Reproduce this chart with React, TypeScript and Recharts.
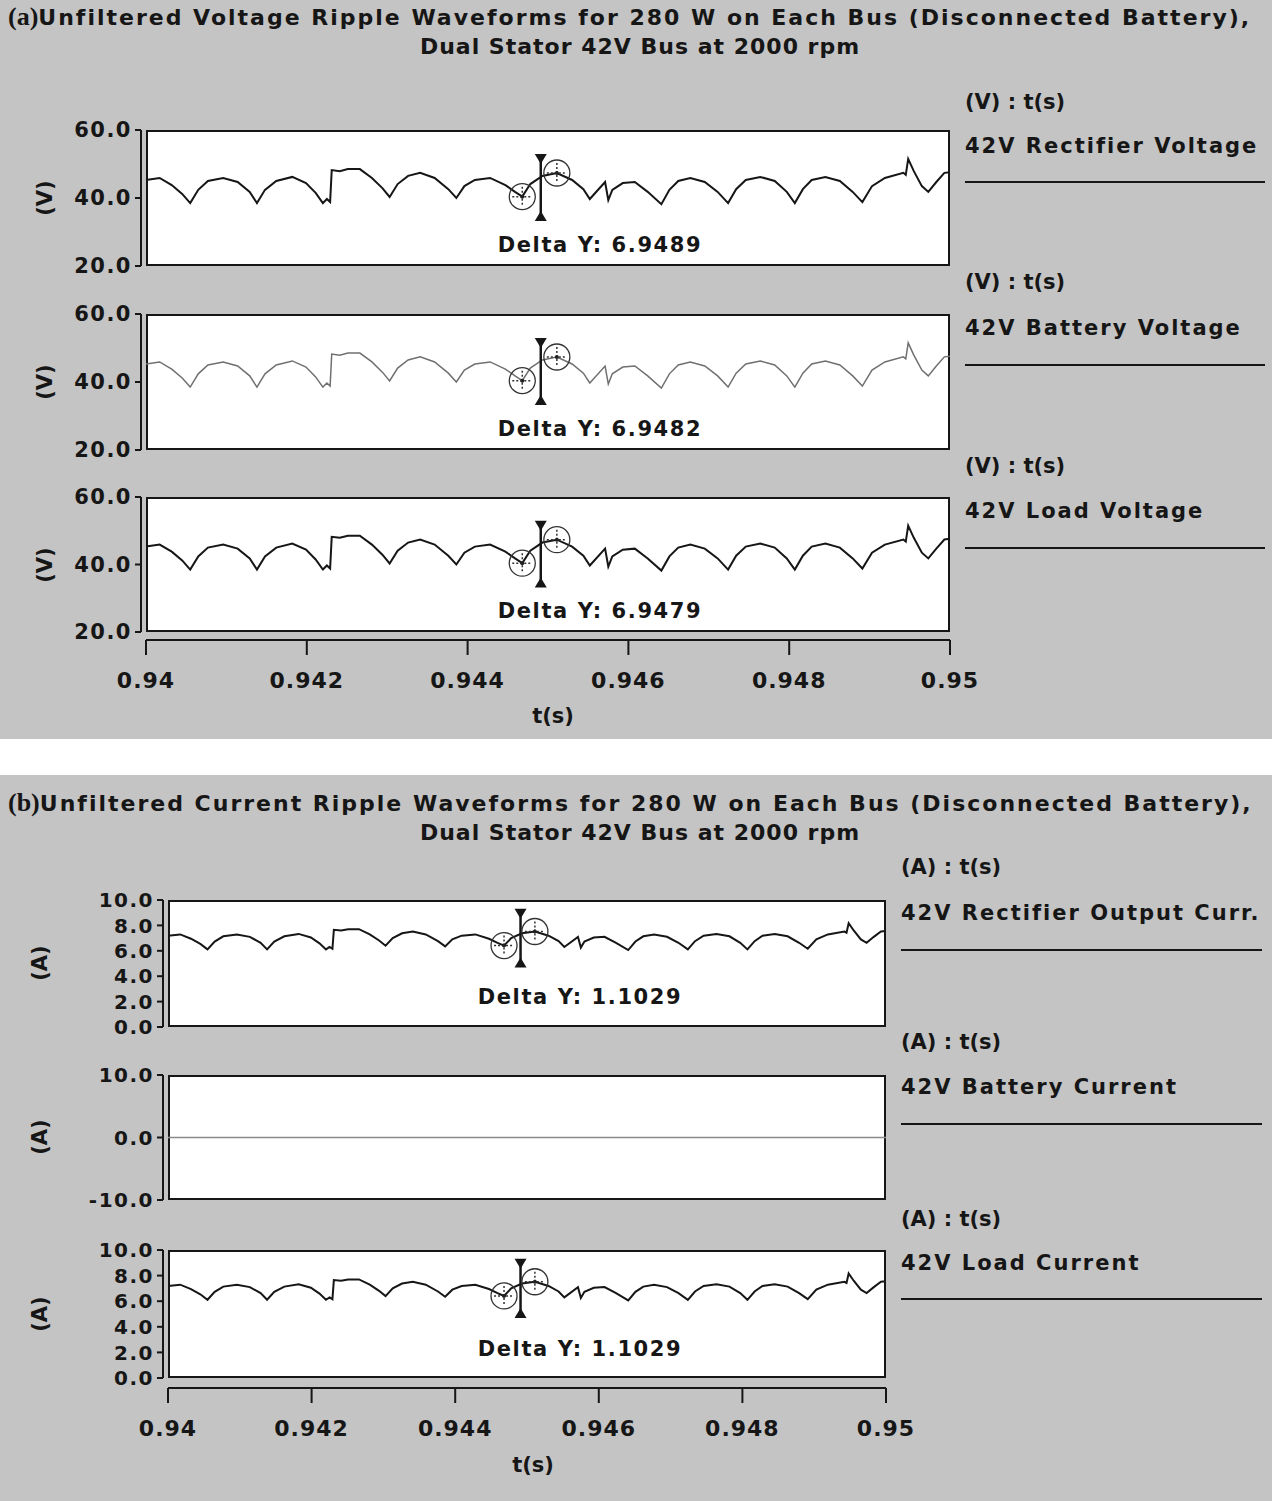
import React from "react";
import { LineChart, Line, XAxis, YAxis, ReferenceDot, ReferenceLine } from "recharts";

// sample times (s)
const times = [
  0.94, 0.94017, 0.94032, 0.94045, 0.94055, 0.94065, 0.94077, 0.94096, 0.94114, 0.94129,
  0.94138, 0.94148, 0.94162, 0.94182, 0.94199, 0.94211, 0.9422, 0.94225, 0.94229, 0.94231,
  0.94241, 0.94251, 0.94266, 0.94281, 0.94294, 0.94303, 0.94313, 0.94326, 0.94341, 0.94359,
  0.94376, 0.94386, 0.94396, 0.94409, 0.94428, 0.94447, 0.94459, 0.94468, 0.94478, 0.94493,
  0.94511, 0.9453, 0.94544, 0.94552, 0.94571, 0.94575, 0.9458, 0.94593, 0.94608, 0.94624,
  0.94641, 0.94651, 0.94662, 0.94677, 0.94695, 0.94711, 0.94724, 0.94734, 0.94746, 0.94764,
  0.94782, 0.94797, 0.94807, 0.94817, 0.94828, 0.94845, 0.94863, 0.94879, 0.94891, 0.94903,
  0.94919, 0.94942, 0.94945, 0.94948, 0.94955, 0.94965, 0.94973, 0.94983, 0.94993, 0.95,
];

// 42V bus voltage (V) - rectifier, battery and load traces coincide
const busVoltage = [
  45.3, 45.9, 43.8, 41.2, 38.5, 42.4, 45.0, 45.9, 44.7, 41.8,
  38.5, 42.4, 45.0, 46.2, 44.4, 41.5, 38.5, 39.7, 38.8, 48.2,
  47.9, 48.5, 48.5, 45.9, 42.9, 40.3, 44.1, 46.5, 47.4, 45.9,
  42.6, 40.0, 43.5, 45.3, 45.9, 43.8, 41.8, 40.4, 44.1, 46.5,
  47.35, 45.3, 42.6, 39.7, 44.7, 39.4, 42.4, 44.4, 44.7, 41.8,
  38.2, 42.4, 45.0, 45.9, 44.7, 41.8, 38.5, 42.6, 45.3, 46.2,
  45.0, 41.8, 38.5, 42.6, 45.3, 46.2, 45.0, 41.8, 38.8, 43.5,
  45.9, 47.4, 46.8, 51.5, 47.9, 43.5, 41.8, 44.7, 47.4, 47.6,
];

// 42V rectifier output / load current (A)
const busCurrent = [
  7.19, 7.29, 6.95, 6.54, 6.11, 6.73, 7.14, 7.29, 7.1, 6.63,
  6.11, 6.73, 7.14, 7.33, 7.05, 6.59, 6.11, 6.3, 6.16, 7.65,
  7.6, 7.7, 7.7, 7.29, 6.81, 6.4, 7.0, 7.38, 7.52, 7.29,
  6.76, 6.35, 6.9, 7.19, 7.29, 6.95, 6.63, 6.41, 7.0, 7.38,
  7.52, 7.19, 6.76, 6.3, 7.1, 6.25, 6.73, 7.05, 7.1, 6.63,
  6.06, 6.73, 7.14, 7.29, 7.1, 6.63, 6.11, 6.76, 7.19, 7.33,
  7.14, 6.63, 6.11, 6.76, 7.19, 7.33, 7.14, 6.63, 6.16, 6.9,
  7.29, 7.52, 7.43, 8.17, 7.6, 6.9, 6.63, 7.1, 7.52, 7.56,
];

// battery disconnected
const batteryCurrent = 0;

const timeTicks = [0.94, 0.942, 0.944, 0.946, 0.948, 0.95];
const voltTicks = [20, 40, 60];
const ampTicks = [0, 2, 4, 6, 8, 10];
const batteryAmpTicks = [-10, 0, 10];

const voltCursor = { t1: 0.94468, t2: 0.94511, tBar: 0.94491, lo: 40.4, hi: 47.35, barLo: 34.4, barHi: 51.8 };
const ampCursor = { t1: 0.94468, t2: 0.94511, tBar: 0.94491, lo: 6.41, hi: 7.52, barLo: 5.0, barHi: 9.0 };

const voltDeltas = ["6.9489", "6.9482", "6.9479"];
const ampDeltas = ["1.1029", "1.1029"];

const rows = times.map((t, i) => ({ t, v: busVoltage[i], a: busCurrent[i], b: batteryCurrent }));

const FONT = '"DejaVu Sans", Verdana, sans-serif';
const INK = "#161616";
const PANEL = "#c4c4c4";

const Ring = (p: any) => (
  <g>
    <circle cx={p.cx} cy={p.cy} r={13} fill="none" stroke="#333" strokeWidth={1.3} />
    <line x1={p.cx - 10} x2={p.cx + 10} y1={p.cy} y2={p.cy} stroke="#333" strokeWidth={1.5} strokeDasharray="2 2" />
    <line x1={p.cx} x2={p.cx} y1={p.cy - 10} y2={p.cy + 10} stroke="#333" strokeWidth={1.5} strokeDasharray="2 2" />
    <circle cx={p.cx} cy={p.cy} r={2} fill="#222" />
  </g>
);
const ArrowDown = (p: any) => (
  <path d={`M${p.cx - 6},${p.cy - 4}L${p.cx + 6},${p.cy - 4}L${p.cx},${p.cy + 6}Z`} fill={INK} />
);
const ArrowUp = (p: any) => (
  <path d={`M${p.cx - 6},${p.cy + 4}L${p.cx + 6},${p.cy + 4}L${p.cx},${p.cy - 6}Z`} fill={INK} />
);

function Txt({ x, y, size = 21, center = false, spacing = 0, children, style }: any) {
  return (
    <div
      style={{
        position: "absolute",
        left: x,
        top: y - size * 0.6,
        transform: center ? "translateX(-50%)" : undefined,
        fontFamily: FONT,
        fontWeight: 700,
        fontSize: size,
        letterSpacing: spacing,
        lineHeight: `${size * 1.2}px`,
        color: INK,
        whiteSpace: "nowrap",
        ...style,
      }}
    >
      {children}
    </div>
  );
}

function Trace({ top, h, axisX, boxL, boxR, domain, ticks, dataKey, stroke, width = 2, cursor, fontSize = 21 }: any) {
  const mt = 14;
  const mb = 14;
  return (
    <>
      <div
        style={{
          position: "absolute",
          left: boxL,
          top,
          width: boxR - boxL,
          height: h,
          background: "#fff",
          border: `2px solid ${INK}`,
          boxSizing: "border-box",
        }}
      />
      <div style={{ position: "absolute", left: 0, top: top - mt }}>
        <LineChart width={boxR + 10} height={h + mt + mb} data={rows} margin={{ top: mt, right: 10, bottom: mb, left: 0 }}>
          <XAxis type="number" dataKey="t" domain={[0.94, 0.95]} hide padding={{ left: boxL - axisX, right: 0 }} />
          <YAxis
            type="number"
            width={axisX}
            domain={domain}
            ticks={ticks}
            interval={0}
            allowDataOverflow
            tickSize={6}
            tickMargin={3}
            axisLine={{ stroke: INK, strokeWidth: 2 }}
            tickLine={{ stroke: INK, strokeWidth: 2 }}
            tick={{ fill: INK, fontSize, fontWeight: 700, fontFamily: FONT, letterSpacing: 1.5 }}
            tickFormatter={(v: number) => v.toFixed(1)}
          />
          <Line type="linear" dataKey={dataKey} stroke={stroke} strokeWidth={width} dot={false} isAnimationActive={false} />
          {cursor && (
            <ReferenceLine
              segment={[
                { x: cursor.tBar, y: cursor.barLo },
                { x: cursor.tBar, y: cursor.barHi },
              ]}
              stroke={INK}
              strokeWidth={2.5}
            />
          )}
          {cursor && <ReferenceDot x={cursor.tBar} y={cursor.barHi} shape={ArrowDown} />}
          {cursor && <ReferenceDot x={cursor.tBar} y={cursor.barLo} shape={ArrowUp} />}
          {cursor && <ReferenceDot x={cursor.t1} y={cursor.lo} shape={Ring} />}
          {cursor && <ReferenceDot x={cursor.t2} y={cursor.hi} shape={Ring} />}
        </LineChart>
      </div>
    </>
  );
}

function TimeAxis({ top, left, right }: any) {
  return (
    <div style={{ position: "absolute", left: 0, top: top - 1 }}>
      <LineChart width={right + 50} height={71} data={rows} margin={{ top: 0, right: 50, bottom: 0, left }}>
        <XAxis
          type="number"
          dataKey="t"
          domain={[0.94, 0.95]}
          ticks={timeTicks}
          interval={0}
          height={70}
          tickSize={15}
          tickMargin={17}
          axisLine={{ stroke: INK, strokeWidth: 2 }}
          tickLine={{ stroke: INK, strokeWidth: 2 }}
          tick={{ fill: INK, fontSize: 22, fontWeight: 700, fontFamily: FONT, letterSpacing: 1 }}
          tickFormatter={(v: number) => String(v)}
        />
        <YAxis hide domain={[0, 1]} />
        <Line dataKey="v" stroke="none" dot={false} isAnimationActive={false} />
      </LineChart>
    </div>
  );
}

function Legend({ x, y, unit, name, lineY, lineW }: any) {
  return (
    <>
      <Txt x={x} y={y}>{unit}</Txt>
      <Txt x={x} y={y + (lineY - y) * 0.55} spacing={2}>{name}</Txt>
      <div style={{ position: "absolute", left: x, top: lineY - 1, width: lineW, height: 2, background: INK }} />
    </>
  );
}

function UnitLabel({ x, y, text }: any) {
  return (
    <div
      style={{
        position: "absolute",
        left: x - 30,
        top: y - 13,
        width: 60,
        height: 26,
        lineHeight: "26px",
        textAlign: "center",
        transform: "rotate(-90deg)",
        fontFamily: FONT,
        fontWeight: 700,
        fontSize: 21,
        color: INK,
      }}
    >
      {text}
    </div>
  );
}

function Title({ y, tag, line1, line2 }: any) {
  return (
    <>
      <Txt x={8} y={y} size={22} spacing={2}>
        <span style={{ fontFamily: '"Liberation Serif", "DejaVu Serif", serif', fontSize: 26, letterSpacing: 0 }}>{tag}</span>
        {line1}
      </Txt>
      <Txt x={640} y={y + 30} size={22} center spacing={1}>
        {line2}
      </Txt>
    </>
  );
}

export default function App() {
  const vBoxes = [
    { top: 130, h: 136, key: "v", stroke: INK, w: 2 },
    { top: 314, h: 136, key: "v", stroke: "#707070", w: 1.5 },
    { top: 497, h: 135, key: "v", stroke: INK, w: 2 },
  ];
  return (
    <div style={{ position: "absolute", left: 0, top: 0, width: 1272, height: 1501, background: "#fff", overflow: "hidden" }}>
      <div style={{ position: "absolute", left: 0, top: 0, width: 1272, height: 739, background: PANEL }} />
      <div style={{ position: "absolute", left: 0, top: 775, width: 1272, height: 726, background: PANEL }} />

      {/* (a) voltages */}
      <Title
        y={17}
        tag="(a)"
        line1="Unfiltered Voltage Ripple Waveforms for 280 W on Each Bus (Disconnected Battery),"
        line2="Dual Stator 42V Bus at 2000 rpm"
      />
      {vBoxes.map((b, i) => (
        <React.Fragment key={i}>
          <Trace
            top={b.top}
            h={b.h}
            axisX={141}
            boxL={146}
            boxR={950}
            domain={[20, 60]}
            ticks={voltTicks}
            dataKey={b.key}
            stroke={b.stroke}
            width={b.w}
            cursor={voltCursor}
          />
          <UnitLabel x={45} y={b.top + b.h / 2} text="(V)" />
          <Txt x={600} y={b.top + b.h - 20} center spacing={1.6}>{`Delta Y: ${voltDeltas[i]}`}</Txt>
        </React.Fragment>
      ))}
      <Legend x={965} y={103} unit="(V) : t(s)" name="42V Rectifier Voltage" lineY={182} lineW={300} />
      <Legend x={965} y={283} unit="(V) : t(s)" name="42V Battery Voltage" lineY={365} lineW={300} />
      <Legend x={965} y={467} unit="(V) : t(s)" name="42V Load Voltage" lineY={548} lineW={300} />
      <TimeAxis top={640} left={146} right={950} />
      <Txt x={553} y={717} center>t(s)</Txt>

      {/* (b) currents */}
      <Title
        y={803}
        tag="(b)"
        line1="Unfiltered Current Ripple Waveforms for 280 W on Each Bus (Disconnected Battery),"
        line2="Dual Stator 42V Bus at 2000 rpm"
      />
      <Trace top={900} h={127} axisX={163} boxL={168} boxR={886} domain={[0, 10]} ticks={ampTicks} dataKey="a" stroke={INK} cursor={ampCursor} fontSize={20} />
      <UnitLabel x={40} y={963} text="(A)" />
      <Txt x={580} y={998} center spacing={1.6}>{`Delta Y: ${ampDeltas[0]}`}</Txt>

      <Trace top={1075} h={125} axisX={163} boxL={168} boxR={886} domain={[-10, 10]} ticks={batteryAmpTicks} dataKey="b" stroke="#8a8a8a" width={1.5} fontSize={20} />
      <UnitLabel x={40} y={1137} text="(A)" />

      <Trace top={1250} h={128} axisX={163} boxL={168} boxR={886} domain={[0, 10]} ticks={ampTicks} dataKey="a" stroke={INK} cursor={ampCursor} fontSize={20} />
      <UnitLabel x={40} y={1314} text="(A)" />
      <Txt x={580} y={1350} center spacing={1.6}>{`Delta Y: ${ampDeltas[1]}`}</Txt>

      <Legend x={901} y={868} unit="(A) : t(s)" name="42V Rectifier Output Curr." lineY={950} lineW={361} />
      <Legend x={901} y={1043} unit="(A) : t(s)" name="42V Battery Current" lineY={1124} lineW={361} />
      <Legend x={901} y={1220} unit="(A) : t(s)" name="42V Load Current" lineY={1299} lineW={361} />
      <TimeAxis top={1388} left={168} right={886} />
      <Txt x={533} y={1466} center>t(s)</Txt>
    </div>
  );
}
